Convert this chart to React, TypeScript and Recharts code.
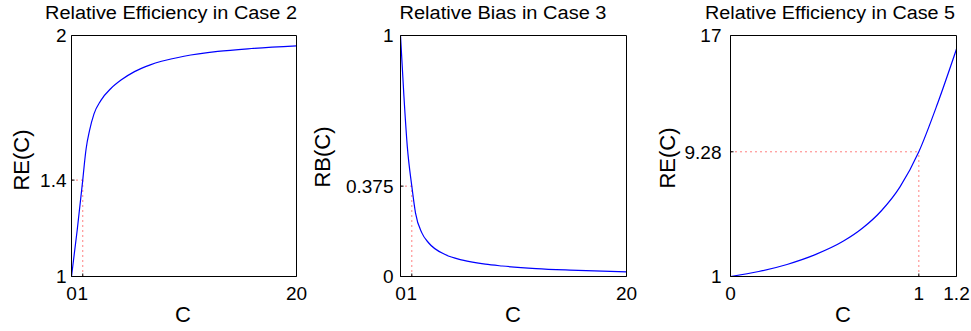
import { LineChart, Line, XAxis, YAxis, ReferenceLine } from 'recharts';

const font = '"Liberation Sans", Arial, Helvetica, sans-serif';

// Case 2: relative efficiency RE(C)
const c2 = [0, 0.5, 1, 1.15, 1.3, 1.6, 2, 2.6, 3.5, 4.4, 5.6, 7, 8, 10, 13, 16, 20];
const re2 = [1, 1.19, 1.4, 1.47, 1.53, 1.605, 1.675, 1.73, 1.78, 1.815, 1.85, 1.878, 1.893, 1.914, 1.934, 1.946, 1.957];
const xTicks2 = [0, 1, 20];
const yTicks2 = [1, 1.4, 2];

// Case 3: relative bias RB(C)
const c3 = [0, 0.3, 0.6, 1, 1.33, 1.9, 2.5, 4, 5.5, 7.5, 9, 12, 15, 20];
const rb3 = [1, 0.75, 0.54, 0.375, 0.263, 0.18, 0.139, 0.09, 0.068, 0.051, 0.0435, 0.033, 0.0265, 0.019];
const xTicks3 = [0, 1, 20];
const yTicks3 = [0, 0.375, 1];

// Case 5: relative efficiency RE(C)
const c5 = [0, 0.15, 0.3, 0.45, 0.6, 0.7, 0.8, 0.9, 1, 1.1, 1.2];
const re5 = [1, 1.33, 1.8, 2.45, 3.35, 4.2, 5.35, 6.95, 9.28, 12.5, 16.1];
const xTicks5 = [0, 1, 1.2];
const yTicks5 = [1, 9.28, 17];

const toRows = (xs: number[], ys: number[]) => xs.map((c, i) => ({ c, v: ys[i] }));

type Box = { top: number; right: number; bottom: number; left: number };

type PanelProps = {
  left: number;
  width: number;
  box: Box; // distances from the svg edges to the plot frame
  rows: { c: number; v: number }[];
  xTicks: number[];
  yTicks: number[];
  markX: number;
  markY: number;
  yGap: number;
};

const Panel = ({ left, width, box, rows, xTicks, yTicks, markX, markY, yGap }: PanelProps) => {
  const xDomain = [xTicks[0], xTicks[xTicks.length - 1]];
  const yDomain = [yTicks[0], yTicks[yTicks.length - 1]];
  const tickStyle = { fill: '#000', fontSize: 19, fontFamily: font };
  // every axis takes 1px, so the margins are 1px smaller than the box
  const margin = { top: box.top - 1, right: box.right - 1, bottom: box.bottom - 1, left: box.left - 1 };
  return (
    <div style={{ position: 'absolute', left, top: 0 }}>
      <LineChart width={width} height={331} data={rows} margin={margin}>
        <XAxis xAxisId="b" type="number" dataKey="c" domain={xDomain} ticks={xTicks} interval={0}
          height={1} tickSize={-3} tickMargin={13} stroke="#000" tick={tickStyle} allowDataOverflow />
        <XAxis xAxisId="t" orientation="top" type="number" domain={xDomain} ticks={xTicks} interval={0}
          height={1} tickSize={-3} tick={false} stroke="#000" allowDataOverflow />
        <YAxis yAxisId="l" type="number" domain={yDomain} ticks={yTicks} interval={0}
          width={1} tickSize={-3} tickMargin={yGap} stroke="#000" tick={tickStyle} allowDataOverflow />
        <YAxis yAxisId="r" orientation="right" type="number" domain={yDomain} ticks={yTicks} interval={0}
          width={1} tickSize={-3} tick={false} stroke="#000" allowDataOverflow />
        <ReferenceLine xAxisId="b" yAxisId="l" stroke="#ff0000" strokeDasharray="1 4"
          segment={[{ x: xDomain[0], y: markY }, { x: markX, y: markY }]} />
        <ReferenceLine xAxisId="b" yAxisId="l" stroke="#ff0000" strokeDasharray="1 4"
          segment={[{ x: markX, y: yDomain[0] }, { x: markX, y: markY }]} />
        <Line xAxisId="b" yAxisId="l" dataKey="v" type="monotone" stroke="#0000ff" strokeWidth={1.2}
          dot={false} isAnimationActive={false} />
      </LineChart>
    </div>
  );
};

const titles = [
  { x: 171, text: 'Relative Efficiency in Case 2', len: 252 },
  { x: 503, text: 'Relative Bias in Case 3', len: 207 },
  { x: 830, text: 'Relative Efficiency in Case 5', len: 250 },
];
const yLabels = [
  { x: 21.5, y: 160, text: 'RE(C)' },
  { x: 322, y: 157, text: 'RB(C)' },
  { x: 667.5, y: 158, text: 'RE(C)' },
];
const xLabelPos = [183, 513, 843];

export default function App() {
  return (
    <div style={{ position: 'absolute', left: 0, top: 0, width: 971, height: 331, background: '#fff' }}>
      <Panel left={0} width={320} box={{ top: 35.5, left: 71.5, right: 23.5, bottom: 54.5 }}
        rows={toRows(c2, re2)} xTicks={xTicks2} yTicks={yTicks2} markX={1} markY={re2[2]} yGap={8} />
      <Panel left={320} width={320} box={{ top: 35.5, left: 80.5, right: 13.5, bottom: 54.5 }}
        rows={toRows(c3, rb3)} xTicks={xTicks3} yTicks={yTicks3} markX={1} markY={rb3[3]} yGap={10} />
      <Panel left={640} width={331} box={{ top: 35.5, left: 90.5, right: 14.5, bottom: 54.5 }}
        rows={toRows(c5, re5)} xTicks={xTicks5} yTicks={yTicks5} markX={1} markY={re5[8]} yGap={12} />
      <svg width={971} height={331} style={{ position: 'absolute', left: 0, top: 0, pointerEvents: 'none' }}
        fontFamily={font} fill="#000">
        {titles.map((t) => (
          <text key={t.text + t.x} x={t.x} y={18.5} fontSize={18} textAnchor="middle"
            textLength={t.len} lengthAdjust="spacingAndGlyphs">{t.text}</text>
        ))}
        {xLabelPos.map((x) => (
          <text key={x} x={x} y={322} fontSize={22} textAnchor="middle">C</text>
        ))}
        {yLabels.map((l) => (
          <text key={l.x} transform={`translate(${l.x},${l.y}) rotate(-90)`} fontSize={22}
            textAnchor="middle" dominantBaseline="central">{l.text}</text>
        ))}
      </svg>
    </div>
  );
}
